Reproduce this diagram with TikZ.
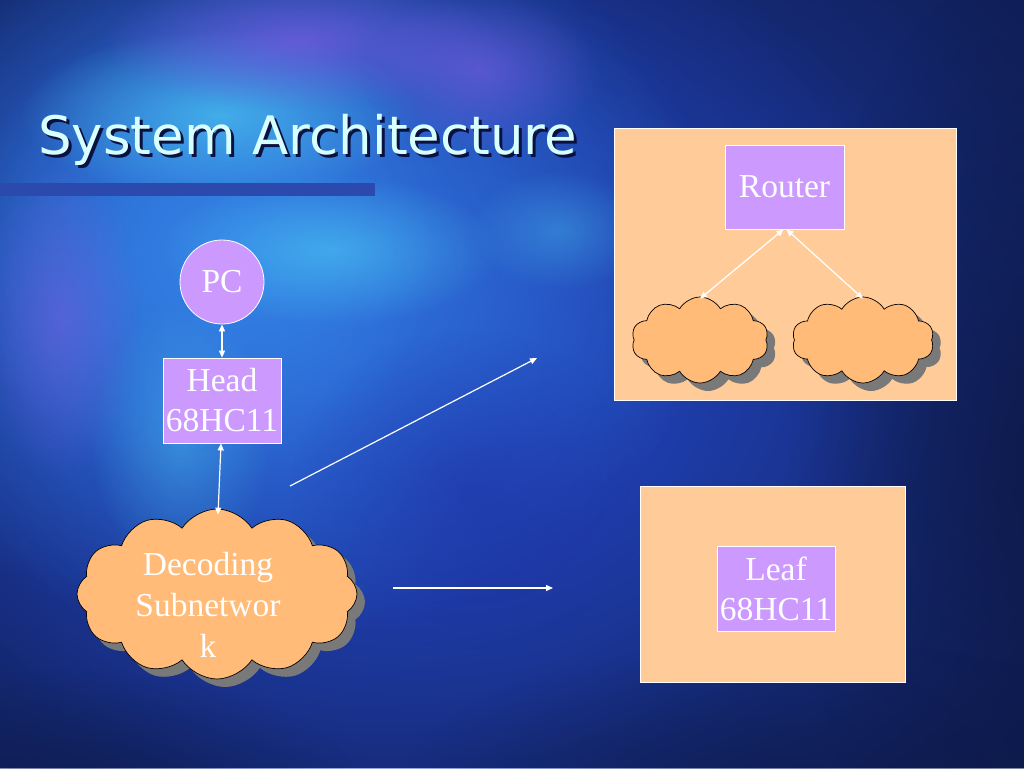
\documentclass[tikz,border=0pt]{standalone}
\usepackage{fontspec}
\setmainfont{Liberation Serif}
\newfontfamily\titlefont{DejaVu Sans}
\usetikzlibrary{shapes.symbols,shadows,fadings,arrows.meta}
\definecolor{bgnavy}{HTML}{0D1845}
\definecolor{midblue}{HTML}{2244BC}
\definecolor{brightblue}{HTML}{3380E4}
\definecolor{cyanish}{HTML}{4CC8F4}
\definecolor{purplish}{HTML}{7C5EE2}
\definecolor{deepblue}{HTML}{1E2CA0}
\definecolor{lilac}{HTML}{CC99FF}
\definecolor{peach}{HTML}{FFCC99}
\definecolor{cloudfill}{HTML}{FFBB77}
\definecolor{titlecol}{HTML}{D8FFFF}
\definecolor{titleshadow}{HTML}{0A1040}
\definecolor{barcol}{HTML}{2C4AAE}
\tikzfading[name=softblob, inner color=transparent!0, outer color=transparent!100]
\tikzset{
  blob/.style={path fading=softblob},
  chip/.style={draw=white, line width=0.8pt, fill=lilac, text=white, inner sep=0pt,
    font=\fontsize{33.5}{40}\selectfont, align=center},
  frame/.style={draw=white, line width=0.8pt, fill=peach},
  puff/.style={cloud, cloud puffs=10, cloud puff arc=120, cloud ignores aspect,
    draw=black, line width=0.7pt, fill=cloudfill, inner sep=0pt,
    drop shadow={shadow xshift=8pt, shadow yshift=-8pt, fill=gray!95!black, opacity=1}},
  link/.style={draw=white, line width=1.2pt, {Triangle[length=7pt,width=6pt]}-{Triangle[length=7pt,width=6pt]}},
  oneway/.style={draw=white, line width=1.2pt, -{Triangle[length=7pt,width=6pt]}},
  label/.style={text=white, font=\fontsize{33.5}{41}\selectfont, align=center, inner sep=0pt}
}
\newcommand{\archtitle}{System Architecture}
\begin{document}
\begin{tikzpicture}[x=1pt,y=-1pt]
\useasboundingbox (0,0) rectangle (1024,768);
\begin{scope}
\clip (0,0) rectangle (1024,768);
\fill[bgnavy] (0,0) rectangle (1024,768);
\fill[midblue, blob] (420,360) ellipse [x radius=900, y radius=700];
\fill[midblue, blob] (380,340) ellipse [x radius=560, y radius=470];
\fill[brightblue, blob] (260,260) ellipse [x radius=460, y radius=380];
\fill[brightblue, blob, opacity=0.8] (200,250) ellipse [x radius=240, y radius=240];
\fill[cyanish, blob, opacity=0.7] (220,115) ellipse [x radius=200, y radius=85];
\fill[cyanish, blob, opacity=0.6] (330,250) ellipse [x radius=170, y radius=75];
\fill[cyanish, blob, opacity=0.4] (180,440) ellipse [x radius=90, y radius=140];
\fill[cyanish, blob, opacity=0.35] (560,230) ellipse [x radius=90, y radius=60];
\fill[purplish, blob, opacity=0.7] (300,40) ellipse [x radius=200, y radius=70];
\fill[purplish, blob, opacity=0.6] (480,70) ellipse [x radius=120, y radius=80];
\fill[purplish, blob, opacity=0.5] (60,320) ellipse [x radius=80, y radius=160];
\fill[deepblue, blob, opacity=0.5] (470,490) ellipse [x radius=180, y radius=160];
\fill[bgnavy, blob, opacity=0.8] (1040,460) ellipse [x radius=250, y radius=500];
\fill[bgnavy, blob, opacity=0.5] (60,790) ellipse [x radius=300, y radius=120];
\fill[bgnavy, blob, opacity=0.5] (800,790) ellipse [x radius=400, y radius=150];
\end{scope}

% title
\fill[barcol] (0,183) rectangle (375,196);
\node[anchor=base west, inner sep=0pt, text=titlecol, font=\titlefont\fontsize{53}{60}\selectfont] (title) at (38,154)
  {\rlap{\hspace{3pt}\raisebox{-3pt}{\textcolor{titleshadow}{\archtitle}}}\archtitle};

% left column
\node[chip, circle, minimum size=84pt] (pc) at (222,282) {PC};
\node[chip, minimum width=118pt, minimum height=85pt] (head) at (222,400.5) {Head\\68HC11};
\node[puff, cloud puffs=12, cloud puff arc=115, minimum width=280pt, minimum height=170pt] (dec) at (217,594) {};
\node[label] (dectext) at (208,605) {Decoding\\Subnetwor\\k};
\draw[link] (pc) -- (head);
\draw[link] ([xshift=-1pt]head.south) -- ([xshift=1pt,yshift=-6pt]dec.north);

% free arrows
\coordinate (a1s) at (290,486);
\coordinate (a1e) at (537,358);
\coordinate (a2s) at (393,588);
\coordinate (a2e) at (553,588);
\draw[oneway] (a1s) -- (a1e);
\draw[oneway] (a2s) -- (a2e);

% router frame
\node[frame, minimum width=342pt, minimum height=272pt, inner sep=0pt] (rframe) at (785,264) {};
\node[chip, minimum width=119pt, minimum height=84pt] (router) at (784.5,187) {Router};
\node[puff, minimum width=137pt, minimum height=86pt] (c1) at (700,340) {};
\node[puff, minimum width=142pt, minimum height=86pt] (c2) at (863,340) {};
\draw[link] ([xshift=-1pt]router.south) -- ([yshift=-2pt]c1.north);
\draw[link] ([xshift=2pt]router.south) -- ([yshift=-2pt]c2.north);

% leaf frame
\node[frame, minimum width=265pt, minimum height=196pt, inner sep=0pt] (lframe) at (772.5,584) {};
\node[chip, minimum width=118pt, minimum height=85pt] (leaf) at (776,588.5) {Leaf\\68HC11};
\end{tikzpicture}
\end{document}
